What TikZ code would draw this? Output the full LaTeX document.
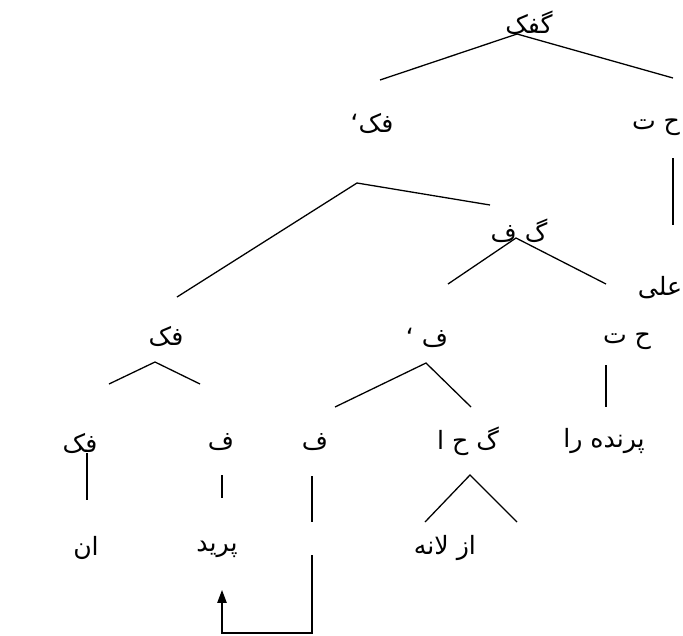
\documentclass[tikz,border=0pt]{standalone}
\usepackage{fontspec}
\usepackage{tikz}
\usetikzlibrary{arrows.meta}
\newfontfamily\arabicfont[Script=Arabic]{DejaVu Sans}
\TeXXeTstate=1
\newcommand{\fa}[1]{\beginR#1\endR}

\begin{document}
\begin{tikzpicture}[x=0.03cm,y=-0.03cm,
	every node/.style={font=\arabicfont\fontsize{21.5}{24}\selectfont,inner sep=0pt},
	branch/.style={line width=1.1pt}]
					\useasboundingbox (0,0) rectangle (683,635);
					\node (vfull) at (529,23) {\fa{گفک}};
					\node (vbar) at (372,123) {\fa{فک‘}};
					\node (dpa) at (656,127) {\fa{ح ت}};
					\node (vp) at (519,231) {\fa{گ ف}};
					\node (ali) at (660,288) {\fa{علی}};
					\node (vsm) at (166,336) {\fa{فک}};
					\node (vpbar) at (427,338) {\fa{ف ‘}};
					\node (dpb) at (627,341) {\fa{ح ت}};
					\node (vsmb) at (80,443) {\fa{فک}};
					\node (verba) at (221,442) {\fa{ف}};
					\node (verbb) at (315,442) {\fa{ف}};
					\node (pp) at (468,441) {\fa{گ ح ا}};
					\node (bird) at (604,441) {\fa{پرنده را}};
					\node (an) at (86,548) {\fa{ان}};
					\node (parid) at (217,549) {\fa{پرید}};
					\node (lane) at (445,548) {\fa{از لانه}};
					\coordinate (top) at (517,34);
					\coordinate (topl) at (380,80);
					\coordinate (topr) at (673,78);
					\coordinate (dpat) at (673,158);
					\coordinate (dpab) at (673,225);
					\coordinate (vbart) at (357,183);
					\coordinate (vbarl) at (177,297);
					\coordinate (vbarr) at (490,205);
					\coordinate (vpt) at (516,238);
					\coordinate (vpl) at (448,284);
					\coordinate (vpr) at (606,284);
					\coordinate (vsmt) at (155,362);
					\coordinate (vsml) at (109,384);
					\coordinate (vsmr) at (200,384);
					\coordinate (vpbart) at (426,363);
					\coordinate (vpbarl) at (335,407);
					\coordinate (vpbarr) at (471,407);
					\coordinate (dpbt) at (606,365);
					\coordinate (dpbb) at (606,407);
					\coordinate (vsmbt) at (87,453);
					\coordinate (vsmbb) at (87,500);
					\coordinate (verbat) at (222,475);
					\coordinate (verbab) at (222,498);
					\coordinate (verbbt) at (312,476);
					\coordinate (verbbb) at (312,522);
					\coordinate (movet) at (312,555);
					\coordinate (moveb) at (312,633);
					\coordinate (movetip) at (222,590);
					\coordinate (ppt) at (470,475);
					\coordinate (ppl) at (425,522);
					\coordinate (ppr) at (517,522);
					\draw[branch] (topl) -- (top) -- (topr);
					\draw[branch] (dpat) -- (dpab);
					\draw[branch] (vbarl) -- (vbart) -- (vbarr);
					\draw[branch] (vpl) -- (vpt) -- (vpr);
					\draw[branch] (vsml) -- (vsmt) -- (vsmr);
					\draw[branch] (vpbarl) -- (vpbart) -- (vpbarr);
					\draw[branch] (dpbt) -- (dpbb);
					\draw[branch] (vsmbt) -- (vsmbb);
					\draw[branch] (verbat) -- (verbab);
					\draw[branch] (verbbt) -- (verbbb);
					\draw[branch] (ppl) -- (ppt) -- (ppr);
					\draw[branch,-{Triangle[width=8pt,length=11pt]}] (movet) -- (moveb) -| (movetip);
				\end{tikzpicture}
\end{document}
